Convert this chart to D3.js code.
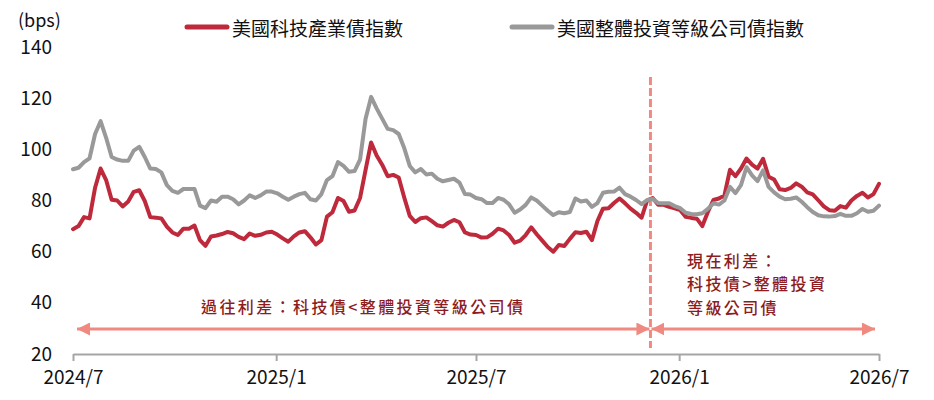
<!DOCTYPE html>
<html>
<head>
<meta charset="utf-8">
<script src="https://cdn.jsdelivr.net/npm/d3@7"></script>
<style>
body { margin: 0; background: #fff; }
svg text { font-family: "Noto Sans CJK TC", "Liberation Sans", sans-serif; }
</style>
</head>
<body>
<svg class="spread" width="934" height="400"></svg>
<script>
// spreads, one reading every 5 days from 2024/7/1
startDate = "2024-07-01";
stepDays = 5;

techSpread = [
    68.8, 70, 73.5, 73, 85, 92.5, 88, 80.3, 80, 77.7,
    79.6, 83.4, 84, 79.8, 73.5, 73.3, 73, 69.8, 67.5, 66.5,
    69, 69, 70.2, 64.5, 62.3, 65.9, 66.3, 66.9, 67.7, 67.2,
    65.8, 64.9, 67.1, 66.2, 66.6, 67.5, 67.8, 66.7, 65.2, 63.9,
    66, 67.5, 68, 65.6, 62.8, 64.5, 73.7, 75.4, 81, 79.8,
    75.6, 76.1, 81, 92, 102.7, 97.6, 94, 89.5, 90, 89,
    81.2, 74, 71.6, 73.1, 73.4, 71.9, 70.3, 69.8, 71.3, 72.4,
    71.5, 67.5, 66.7, 66.5, 65.5, 65.6, 67, 69, 68.3, 66.5,
    63.5, 64.3, 66.5, 69.5, 66.8, 64.3, 61.8, 60, 62.6, 62.2,
    65, 67.6, 67.3, 67.8, 64.5, 72, 76.8, 77, 79, 80.8,
    78.9, 76.8, 75.2, 73.3, 80, 81, 78.3, 78.3, 77.5, 76.9,
    76.2, 73.6, 73.2, 72.9, 70, 75.5, 80.2, 80.8, 82, 92,
    89.5, 92.5, 96.4, 94, 92.5, 96.3, 89.3, 88.2, 84.4, 84.1,
    84.9, 86.7, 85.4, 83.2, 82.4, 80.1, 77.7, 76.2, 76, 77.8,
    77.2, 80, 81.8, 83, 81.2, 82.5, 86.5
];

igSpread = [
    92.2, 92.8, 95, 96.5, 106, 111, 104.5, 97, 96, 95.5,
    95.5, 99.5, 101, 97, 92.5, 92.3, 91, 86, 83.8, 83,
    84.5, 84.5, 84.5, 78, 77, 80, 79.5, 81.5, 81.5, 80.5,
    78.5, 80, 82, 81, 82, 83.5, 83.5, 82.8, 81.5, 80.3,
    81.5, 82.5, 83, 80.5, 80, 82.5, 88, 89.5, 95, 93.5,
    91.2, 91.5, 96, 112, 120.5, 116, 112, 108, 107.5, 106,
    100.5, 93.5, 91, 92.3, 90.2, 90.5, 88.5, 87.5, 88, 88.5,
    87, 82.5, 82.3, 81, 80.5, 79, 79, 81, 80.3, 78.5,
    75.2, 76.5, 78.3, 81.2, 80, 78, 76, 74.3, 75.4, 75,
    75.5, 80.8, 79.6, 80, 77.5, 79, 83, 83.4, 83.5, 85,
    82.5, 81.5, 80.2, 78.6, 80.2, 80.6, 79, 78.9, 78.9, 77.8,
    77, 75.2, 74.7, 74.6, 75, 76.7, 78.9, 78.4, 80, 85.3,
    82.9, 86, 93, 89.8, 87.6, 91.8, 85.3, 83.2, 81.5, 80.5,
    80.7, 81.2, 79.5, 77.4, 75.5, 74.2, 73.8, 73.7, 73.9, 74.8,
    74, 74, 75, 76.7, 75.6, 76, 78
];

seriesNames = ["美國科技產業債指數", "美國整體投資等級公司債指數"];
seriesColors = ["#BE2A3B", "#999999"];
yTicks = [20, 40, 60, 80, 100, 120, 140];
xTicks = ["2024-07-01", "2025-01-01", "2025-07-01", "2026-01-01", "2026-07-01"];
xTickLabels = ["2024/7", "2025/1", "2025/7", "2026/1", "2026/7"];
splitDate = "2025-12-06";
pastNote = "過往利差：科技債<整體投資等級公司債";
nowNote = ["現在利差：", "科技債>整體投資", "等級公司債"];

parse = d3.timeParse("%Y-%m-%d");
start = parse(startDate);
dates = techSpread.map((v, i) => d3.timeDay.offset(start, i * stepDays));

svg = d3.select("svg.spread");

x = d3.scaleTime()
    .domain([parse(xTicks[0]), parse(xTicks[xTicks.length - 1])])
    .range([73, 879]);
y = d3.scaleLinear()
    .domain([20, 140])
    .range([354, 47]);

// x axis
xAxis = svg.append("g")
    .attr("transform", "translate(0,354)")
    .call(d3.axisBottom(x)
        .tickValues(xTicks.map(parse))
        .tickFormat((d, i) => xTickLabels[i])
        .tickSizeInner(7)
        .tickSizeOuter(0)
        .tickPadding(10));
xAxis.selectAll("path, line").attr("stroke", "#A6A6A6").attr("stroke-width", 2);
xAxis.selectAll("text").attr("font-size", 19).attr("fill", "#111");

// y axis, labels only
yAxis = svg.append("g")
    .attr("transform", "translate(52,0)")
    .call(d3.axisLeft(y).tickValues(yTicks).tickSize(0).tickPadding(0));
yAxis.select(".domain").remove();
yAxis.selectAll("text").attr("font-size", 19).attr("fill", "#111");

svg.append("text")
    .attr("x", 18)
    .attr("y", 19)
    .attr("dominant-baseline", "central")
    .attr("font-size", 18)
    .attr("fill", "#111")
    .text("(bps)");

// split between past and now
svg.append("line")
    .attr("x1", x(parse(splitDate)))
    .attr("x2", x(parse(splitDate)))
    .attr("y1", 77)
    .attr("y2", 348)
    .attr("stroke", "#F08A80")
    .attr("stroke-width", 3)
    .attr("stroke-dasharray", "8,3");

line = d3.line()
    .x((d, i) => x(dates[i]))
    .y(d => y(d))
    .curve(d3.curveLinear);

svg.selectAll("path.series")
    .data([techSpread, igSpread])
    .enter().append("path")
    .attr("class", "series")
    .attr("d", line)
    .attr("fill", "none")
    .attr("stroke", (d, i) => seriesColors[i])
    .attr("stroke-width", 4)
    .attr("stroke-linejoin", "round")
    .attr("stroke-linecap", "round");

// legend
legendX = [185, 510];
legend = svg.selectAll("g.legend")
    .data(seriesNames)
    .enter().append("g")
    .attr("class", "legend")
    .attr("transform", (d, i) => "translate(" + legendX[i] + ",27)");
legend.append("line")
    .attr("x1", 2).attr("x2", 42)
    .attr("stroke", (d, i) => seriesColors[i])
    .attr("stroke-width", 5)
    .attr("stroke-linecap", "round");
legend.append("text")
    .attr("x", 47)
    .attr("dominant-baseline", "central")
    .attr("font-size", 19)
    .attr("fill", "#111")
    .text(d => d);

// arrows
defs = svg.append("defs");
["arrowEnd", "arrowStart"].forEach((id, k) => {
    defs.append("marker")
        .attr("id", id)
        .attr("viewBox", "0 0 10 10")
        .attr("refX", 10).attr("refY", 5)
        .attr("markerWidth", 13).attr("markerHeight", 13)
        .attr("markerUnits", "userSpaceOnUse")
        .attr("orient", k ? "auto-start-reverse" : "auto")
        .append("path")
        .attr("d", "M0,0L10,5L0,10Z")
        .attr("fill", "#F08A80");
});
splitX = x(parse(splitDate));
arrows = [[x.range()[0] + 4, splitX - 1], [splitX + 1, x.range()[1] - 4]];
svg.selectAll("line.arrow")
    .data(arrows)
    .enter().append("line")
    .attr("class", "arrow")
    .attr("x1", d => d[0]).attr("x2", d => d[1])
    .attr("y1", 329).attr("y2", 329)
    .attr("stroke", "#F08A80")
    .attr("stroke-width", 3)
    .attr("marker-start", "url(#arrowStart)")
    .attr("marker-end", "url(#arrowEnd)");

// notes
svg.append("text")
    .attr("x", (arrows[0][0] + arrows[0][1]) / 2)
    .attr("y", 306)
    .attr("text-anchor", "middle")
    .attr("dominant-baseline", "central")
    .attr("font-size", 16)
    .attr("letter-spacing", 2.4)
    .attr("font-weight", 500)
    .attr("fill", "#8C1C1E")
    .text(pastNote);

svg.selectAll("text.now")
    .data(nowNote)
    .enter().append("text")
    .attr("class", "now")
    .attr("x", 687)
    .attr("y", (d, i) => 260 + i * 23.3)
    .attr("dominant-baseline", "central")
    .attr("font-size", 16)
    .attr("letter-spacing", 2.4)
    .attr("font-weight", 500)
    .attr("fill", "#8C1C1E")
    .text(d => d);
</script>
</body>
</html>
